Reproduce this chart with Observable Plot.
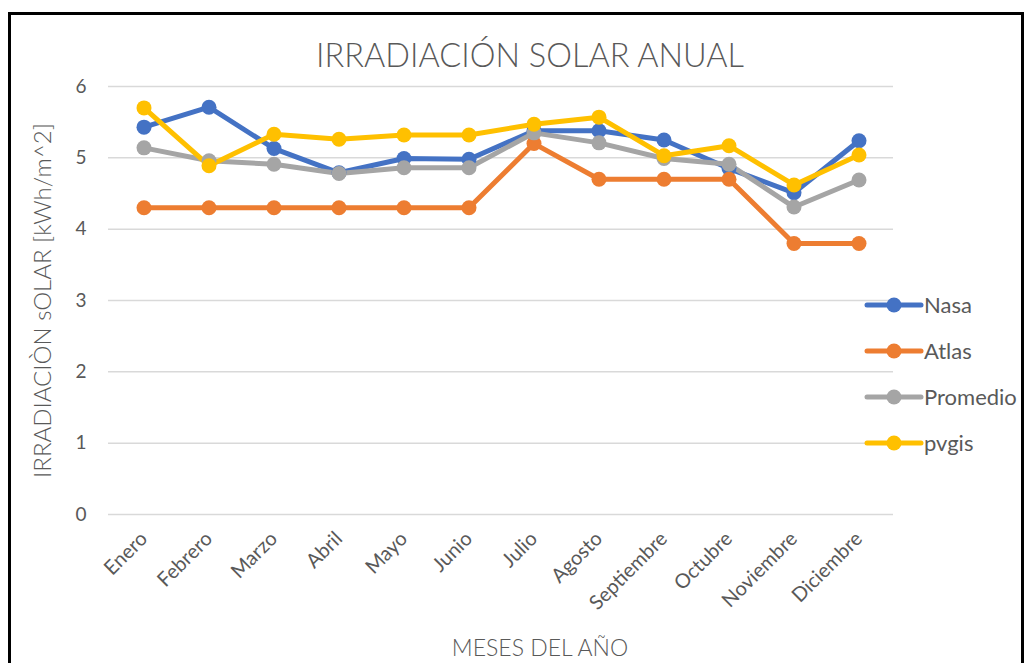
<!DOCTYPE html>
<html>
<head>
<meta charset="utf-8">
<script src="https://cdn.jsdelivr.net/npm/d3@7"></script>
<script src="https://cdn.jsdelivr.net/npm/@observablehq/plot@0.6"></script>
<style>
  body { margin: 0; background: #fff; }
  #wrap { position: relative; width: 1036px; height: 663px; overflow: hidden; font-family: Lato, "Open Sans", sans-serif; color: #595959; }
  #frame { position: absolute; left: 8px; top: 12px; width: 1016px; height: 700px; border: 3px solid #000; box-sizing: border-box; }
  #title { position: absolute; left: 0; width: 1060px; top: 35px; text-align: center; font-size: 32.5px; font-weight: 300; color: #595959; }
  #chart { position: absolute; left: 0; top: 0; }
  #legend { position: absolute; left: 860px; top: 288px; }
</style>
</head>
<body>
<div id="wrap">
  <div id="frame"></div>
  <div id="chart"></div>
  <div id="title">IRRADIACIÓN SOLAR ANUAL</div>
  <div id="legend"></div>
</div>
<script>
const months = ["Enero","Febrero","Marzo","Abril","Mayo","Junio","Julio","Agosto","Septiembre","Octubre","Noviembre","Diciembre"];
const seriesNames = ["Nasa","Atlas","Promedio","pvgis"];
const seriesColors = ["#4472C4","#ED7D31","#A5A5A5","#FFC000"];
const nasa     = [5.43, 5.71, 5.13, 4.79, 4.99, 4.98, 5.38, 5.38, 5.25, 4.85, 4.51, 5.24];
const atlas    = [4.30, 4.30, 4.30, 4.30, 4.30, 4.30, 5.20, 4.70, 4.70, 4.70, 3.80, 3.80];
const promedio = [5.14, 4.96, 4.91, 4.78, 4.86, 4.86, 5.35, 5.21, 4.99, 4.91, 4.31, 4.69];
const pvgis    = [5.70, 4.89, 5.33, 5.26, 5.32, 5.32, 5.47, 5.57, 5.03, 5.17, 4.62, 5.04];
const yTicks = [0, 1, 2, 3, 4, 5, 6];
const xLabel = "MESES DEL AÑO";
const yLabel = "IRRADIACIÒN sOLAR [kWh/m^2]";

const allSeries = [nasa, atlas, promedio, pvgis];
const rows = [];
seriesNames.forEach((s, i) => allSeries[i].forEach((v, j) => rows.push({serie: s, mes: months[j], valor: v})));

const font = "Lato, 'Open Sans', sans-serif";
const chart = Plot.plot({
  width: 1036,
  height: 663,
  marginLeft: 108,
  marginRight: 143,
  marginTop: 86,
  marginBottom: 149,
  style: {fontFamily: font, fontSize: "18px", color: "#595959", background: "transparent"},
  x: {type: "band", domain: months, padding: 0, label: null},
  y: {domain: [0, 6], label: null},
  color: {domain: seriesNames, range: seriesColors},
  marks: [
    Plot.gridY(yTicks, {stroke: "#d9d9d9", strokeOpacity: 1, strokeWidth: 1.5}),
    Plot.axisY(yTicks, {tickSize: 0, tickPadding: 22, fontSize: 19, fill: "#595959", label: null, tickFormat: d => String(d)}),
    Plot.axisX({tickSize: 0, tickPadding: 21, tickRotate: -45, fontSize: 20, fill: "#595959", label: null}),
    Plot.line(rows, {x: "mes", y: "valor", z: "serie", stroke: "serie", strokeWidth: 5, strokeLinejoin: "round", strokeLinecap: "round"}),
    Plot.dot(rows, {x: "mes", y: "valor", fill: "serie", r: 7.5}),
    Plot.text([xLabel], {frameAnchor: "bottom", dx: 39, dy: 141, fontSize: 23, fill: "#595959", fontWeight: 300}),
    Plot.text([yLabel], {frameAnchor: "left", textAnchor: "middle", dx: -65, rotate: -90, fontSize: 24, fill: "#595959", fontWeight: 300})
  ]
});
chart.style.overflow = "visible";
document.getElementById("chart").appendChild(chart);

// legend
const lg = d3.select("#legend").append("svg").attr("width", 176).attr("height", 180)
  .style("overflow", "visible").style("font-family", font);
seriesNames.forEach((s, i) => {
  const y = 17 + i * 46;
  const g = lg.append("g").attr("transform", `translate(0,${y})`);
  g.append("line").attr("x1", 7).attr("x2", 61).attr("y1", 0).attr("y2", 0)
    .attr("stroke", seriesColors[i]).attr("stroke-width", 5).attr("stroke-linecap", "round");
  g.append("circle").attr("cx", 34).attr("cy", 0).attr("r", 7.5).attr("fill", seriesColors[i]);
  g.append("text").attr("x", 64).attr("y", 0).attr("dy", "0.35em").attr("font-size", 22)
    .attr("fill", "#595959").text(s);
});
</script>
</body>
</html>
